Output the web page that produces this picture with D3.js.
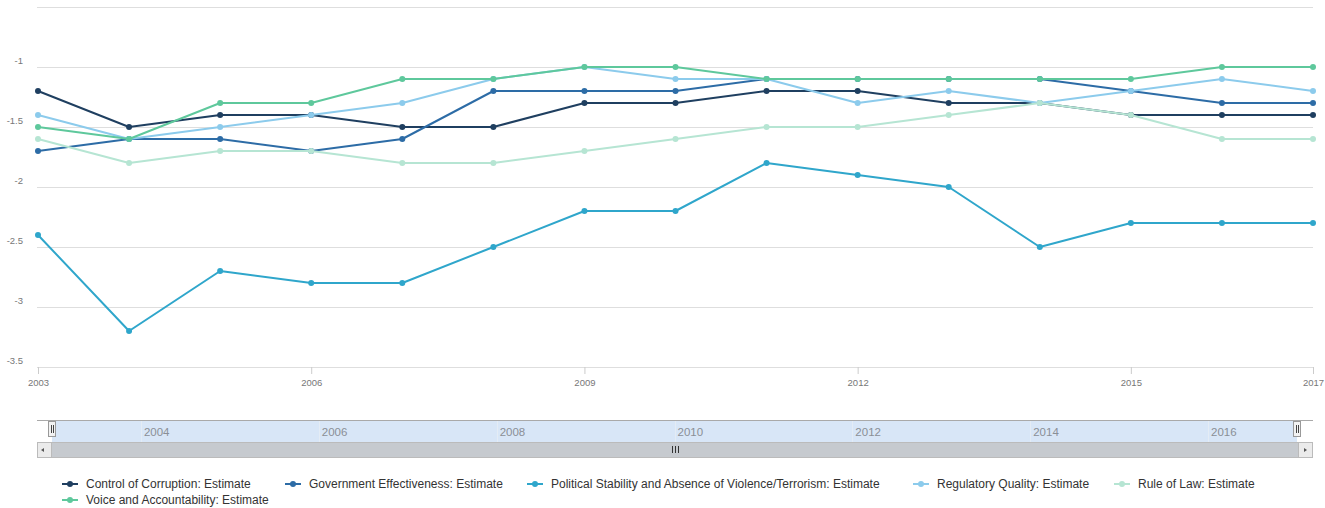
<!DOCTYPE html>
<html>
<head>
<meta charset="utf-8">
<script src="https://cdn.jsdelivr.net/npm/d3@7"></script>
<style>
  html, body { margin: 0; padding: 0; background: #fff; }
  svg { display: block; font-family: "Liberation Sans", Arial, sans-serif; }
</style>
</head>
<body>
<svg id="chart" width="1325" height="508"></svg>
<script>
// ---------------- data ----------------
const years = [2003, 2004, 2005, 2006, 2007, 2008, 2009, 2010, 2011, 2012, 2013, 2014, 2015, 2016, 2017];
const seriesNames = [
  "Control of Corruption: Estimate",
  "Government Effectiveness: Estimate",
  "Political Stability and Absence of Violence/Terrorism: Estimate",
  "Regulatory Quality: Estimate",
  "Rule of Law: Estimate",
  "Voice and Accountability: Estimate"
];
const controlOfCorruption   = [-1.2, -1.5, -1.4, -1.4, -1.5, -1.5, -1.3, -1.3, -1.2, -1.2, -1.3, -1.3, -1.4, -1.4, -1.4];
const governmentEffect      = [-1.7, -1.6, -1.6, -1.7, -1.6, -1.2, -1.2, -1.2, -1.1, -1.1, -1.1, -1.1, -1.2, -1.3, -1.3];
const politicalStability    = [-2.4, -3.2, -2.7, -2.8, -2.8, -2.5, -2.2, -2.2, -1.8, -1.9, -2.0, -2.5, -2.3, -2.3, -2.3];
const regulatoryQuality     = [-1.4, -1.6, -1.5, -1.4, -1.3, -1.1, -1.0, -1.1, -1.1, -1.3, -1.2, -1.3, -1.2, -1.1, -1.2];
const ruleOfLaw             = [-1.6, -1.8, -1.7, -1.7, -1.8, -1.8, -1.7, -1.6, -1.5, -1.5, -1.4, -1.3, -1.4, -1.6, -1.6];
const voiceAccountability   = [-1.5, -1.6, -1.3, -1.3, -1.1, -1.1, -1.0, -1.0, -1.1, -1.1, -1.1, -1.1, -1.1, -1.0, -1.0];
const yTicks = [-3.5, -3, -2.5, -2, -1.5, -1, -0.5];
const yTickLabels = ["-3.5", "-3", "-2.5", "-2", "-1.5", "-1", ""];
const xTicks = [2003, 2006, 2009, 2012, 2015, 2017];
const navTicks = [2004, 2006, 2008, 2010, 2012, 2014, 2016];

const seriesValues = [controlOfCorruption, governmentEffect, politicalStability, regulatoryQuality, ruleOfLaw, voiceAccountability];
const colors = ["#1f3f60", "#2d6ca6", "#2fa6cb", "#8ccbec", "#b6e5d3", "#5ec89c"];

// ---------------- layout ----------------
const svg = d3.select("#chart");
const x = d3.scaleLinear().domain([2003, 2017]).range([38, 1313]);
const y = d3.scaleLinear().domain([-3.5, -0.5]).range([367, 7]);

// gridlines
svg.append("g").selectAll("line").data(yTicks).join("line")
  .attr("x1", 37).attr("x2", 1313)
  .attr("y1", d => Math.round(y(d)) + 0.5).attr("y2", d => Math.round(y(d)) + 0.5)
  .attr("stroke", "#dedede").attr("stroke-width", 1);

// y labels
svg.append("g").selectAll("text").data(yTicks).join("text")
  .attr("x", 23).attr("y", d => y(d) - 3)
  .attr("text-anchor", "end")
  .attr("font-size", 9.5).attr("fill", "#777")
  .text((d, i) => yTickLabels[i]);

// x axis
const xAxis = d3.axisBottom(x).tickValues(xTicks).tickFormat(d3.format("d")).tickSizeInner(7).tickSizeOuter(0).tickPadding(5);
const gx = svg.append("g").attr("transform", "translate(0,367)").call(xAxis);
gx.select(".domain").remove();
gx.selectAll(".tick line").attr("stroke", "#ccc");
gx.selectAll(".tick text").attr("font-size", 9.5).attr("fill", "#777").attr("font-family", "Liberation Sans, Arial, sans-serif");

// lines
const line = d3.line().x((d, i) => x(years[i])).y(d => y(d));
const sg = svg.append("g");
seriesValues.forEach((vals, si) => {
  const g = sg.append("g");
  g.append("path").attr("d", line(vals)).attr("fill", "none")
    .attr("stroke", colors[si]).attr("stroke-width", 2).attr("stroke-linejoin", "round");
  g.selectAll("circle").data(vals).join("circle")
    .attr("cx", (d, i) => x(years[i])).attr("cy", d => y(d)).attr("r", 3)
    .attr("fill", colors[si]);
});

// ---------------- navigator ----------------
const nx = d3.scaleLinear().domain([2003, 2017]).range([52, 1297]);
const nav = svg.append("g");
nav.append("rect").attr("x", nx(2003)).attr("y", 421).attr("width", nx(2017) - nx(2003)).attr("height", 21)
  .attr("fill", "#d8e6f7");
nav.selectAll("line.nt").data(navTicks).join("line").attr("class", "nt")
  .attr("x1", d => Math.round(nx(d)) + 0.5).attr("x2", d => Math.round(nx(d)) + 0.5)
  .attr("y1", 421).attr("y2", 442).attr("stroke", "#e4ecf5");
nav.selectAll("text").data(navTicks).join("text")
  .attr("x", d => nx(d) + 3).attr("y", 436)
  .attr("font-size", 11.5).attr("fill", "#8a8f96")
  .text(d => d);
nav.append("line").attr("x1", 37).attr("x2", 1313).attr("y1", 420.5).attr("y2", 420.5).attr("stroke", "#a9a9a9");
// handles
[nx(2003), nx(2017)].forEach(hx => {
  nav.append("rect").attr("x", hx - 3.5).attr("y", 421.5).attr("width", 7).attr("height", 15)
    .attr("fill", "#f2f2f2").attr("stroke", "#999");
  nav.append("line").attr("x1", hx - 0.5).attr("x2", hx - 0.5).attr("y1", 425).attr("y2", 433).attr("stroke", "#444");
  nav.append("line").attr("x1", hx + 1.5).attr("x2", hx + 1.5).attr("y1", 425).attr("y2", 433).attr("stroke", "#444");
});
// scrollbar
nav.append("rect").attr("x", 37.5).attr("y", 442.5).attr("width", 1275).attr("height", 15)
  .attr("fill", "#c6cacf").attr("stroke", "#bbb");
[[37.5, "M44,448 L41,450 L44,452 Z"], [1298.5, "M1304,448 L1307,450 L1304,452 Z"]].forEach(([bx, p]) => {
  nav.append("rect").attr("x", bx).attr("y", 442.5).attr("width", 14).attr("height", 15)
    .attr("fill", "#ebebeb").attr("stroke", "#bbb");
  nav.append("path").attr("d", p).attr("fill", "#555");
});
[-3, 0, 3].forEach(o => {
  nav.append("line").attr("x1", 675.5 + o).attr("x2", 675.5 + o).attr("y1", 446).attr("y2", 453).attr("stroke", "#333");
});

// ---------------- legend ----------------
const legendPos = [[62, 484], [285, 484], [527, 484], [913, 484], [1114, 484], [62, 500]];
const lg = svg.append("g");
seriesNames.forEach((name, i) => {
  const [lx, ly] = legendPos[i];
  const it = lg.append("g").attr("transform", `translate(${lx},${ly})`);
  it.append("line").attr("x1", 0).attr("x2", 16).attr("y1", 0).attr("y2", 0)
    .attr("stroke", colors[i]).attr("stroke-width", 2);
  it.append("circle").attr("cx", 8).attr("cy", 0).attr("r", 3).attr("fill", colors[i]);
  it.append("text").attr("x", 24).attr("y", 4).attr("font-size", 12).attr("fill", "#333").text(name);
});
</script>
</body>
</html>
